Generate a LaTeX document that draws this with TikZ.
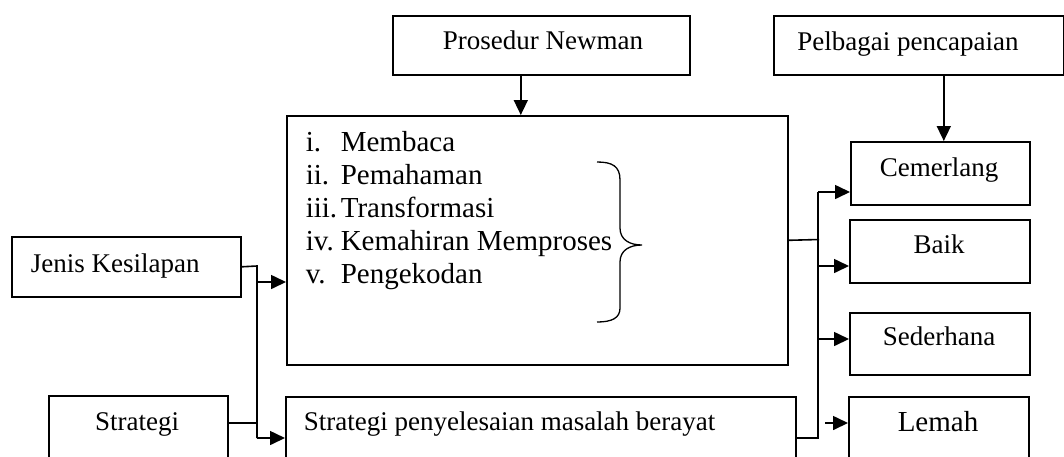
\documentclass[tikz,border=0pt]{standalone}
\usepackage{fontspec}
\setmainfont{Liberation Serif}
\usetikzlibrary{arrows.meta}
\begin{document}
\begin{tikzpicture}[x=0.5pt,y=-0.5pt,line width=0.8pt,
  box/.style={draw,rectangle,inner sep=0pt,anchor=north west},
  txt/.style={font=\fontsize{13.5}{16}\selectfont,anchor=base,inner sep=0pt},
  btxt/.style={font=\fontsize{14.5}{17}\selectfont,anchor=base west,inner sep=0pt},
  arr/.style={-{Triangle[length=7.5pt,width=7pt]}}]
\useasboundingbox (0,0) rectangle (1064,456);
\clip (0,0) rectangle (1064,456);
% boxes
\node[box,minimum width=148.5pt,minimum height=29.5pt] (newman) at (392,15) {};
\node[box,minimum width=145pt,minimum height=29.5pt] (pelbagai) at (773,15) {};
\node[box,minimum width=250.5pt,minimum height=124.5pt] (main) at (286,115) {};
\node[box,minimum width=89.5pt,minimum height=31.5pt] (cem) at (850,141) {};
\node[box,minimum width=90pt,minimum height=31.5pt] (baik) at (849,219) {};
\node[box,minimum width=90pt,minimum height=31pt] (sed) at (849,312) {};
\node[box,minimum width=90pt,minimum height=42pt] (lemah) at (848,396) {};
\node[box,minimum width=255pt,minimum height=42pt] (strat2) at (285,396) {};
\node[box,minimum width=114.5pt,minimum height=30pt] (jenis) at (11,236) {};
\node[box,minimum width=89.5pt,minimum height=42pt] (strategi) at (48,395) {};
% texts
\node[txt] (tnewman) at (543,49) {Prosedur Newman};
\node[txt] (tpelbagai) at (908,50) {Pelbagai pencapaian};
\node[txt] (tcem) at (939,176) {Cemerlang};
\node[txt] (tbaik) at (939,253) {Baik};
\node[txt] (tsed) at (939,345) {Sederhana};
\node[txt,font=\fontsize{14.5}{17}\selectfont] (tlemah) at (938,431) {Lemah};
\node[txt,anchor=base west] (tjenis) at (30,272) {Jenis Kesilapan};
\node[txt] (tstrategi) at (137,430) {Strategi};
\node[txt,anchor=base west] (tstrat2) at (303,430) {Strategi penyelesaian masalah berayat};
% list
\node[btxt] (n1) at (305,151) {i.};
\node[btxt] (l1) at (340,151) {Membaca};
\node[btxt] (n2) at (305,184) {ii.};
\node[btxt] (l2) at (340,184) {Pemahaman};
\node[btxt] (n3) at (305,217) {iii.};
\node[btxt] (l3) at (340,217) {Transformasi};
\node[btxt] (n4) at (305,250) {iv.};
\node[btxt] (l4) at (340,250) {Kemahiran Memproses};
\node[btxt] (n5) at (305,283) {v.};
\node[btxt] (l5) at (340,283) {Pengekodan};
% brace
\draw[line width=0.65pt] (597,162) .. controls (612,162) and (620,166) .. (620,180) -- (620,228)
  .. controls (620,240) and (630,245) .. (642,245)
  .. controls (630,245) and (620,250) .. (620,262) -- (620,308)
  .. controls (620,318) and (612,322) .. (597,322);
% top arrows
\draw[arr] ([xshift=-10.25pt]newman.south) -- ([xshift=-10.25pt]newman.south |- main.north);
\draw[arr] ([xshift=1.75pt]cem.north |- pelbagai.south) -- ([xshift=1.75pt]cem.north);
% left connectors
\coordinate (jk) at (257,266);
\coordinate (j1) at (257,282);
\coordinate (sk) at (257,423);
\coordinate (j2) at (257,438);
\draw (jenis.east) -- (jk) -- (j2);
\draw (strategi.east |- sk) -- (sk);
\draw[arr] (j1) -- (j1 -| main.west);
\draw[arr] (j2) -- (j2 -| strat2.west);
% right connectors
\coordinate (mk) at (819,239.5);
\coordinate (r1) at (818,192);
\coordinate (r2) at (818,266);
\coordinate (r3) at (818,339);
\coordinate (r4) at (818,438);
\coordinate (r5) at (825,423);
\draw (main.east) -- (mk);
\draw (r1) -- (r4) -- (r4 -| strat2.east);
\draw[arr] (r1) -- (r1 -| cem.west);
\draw[arr] (r2) -- (r2 -| baik.west);
\draw[arr] (r3) -- (r3 -| sed.west);
\draw[arr] (r5) -- (r5 -| lemah.west);
\end{tikzpicture}
\end{document}
